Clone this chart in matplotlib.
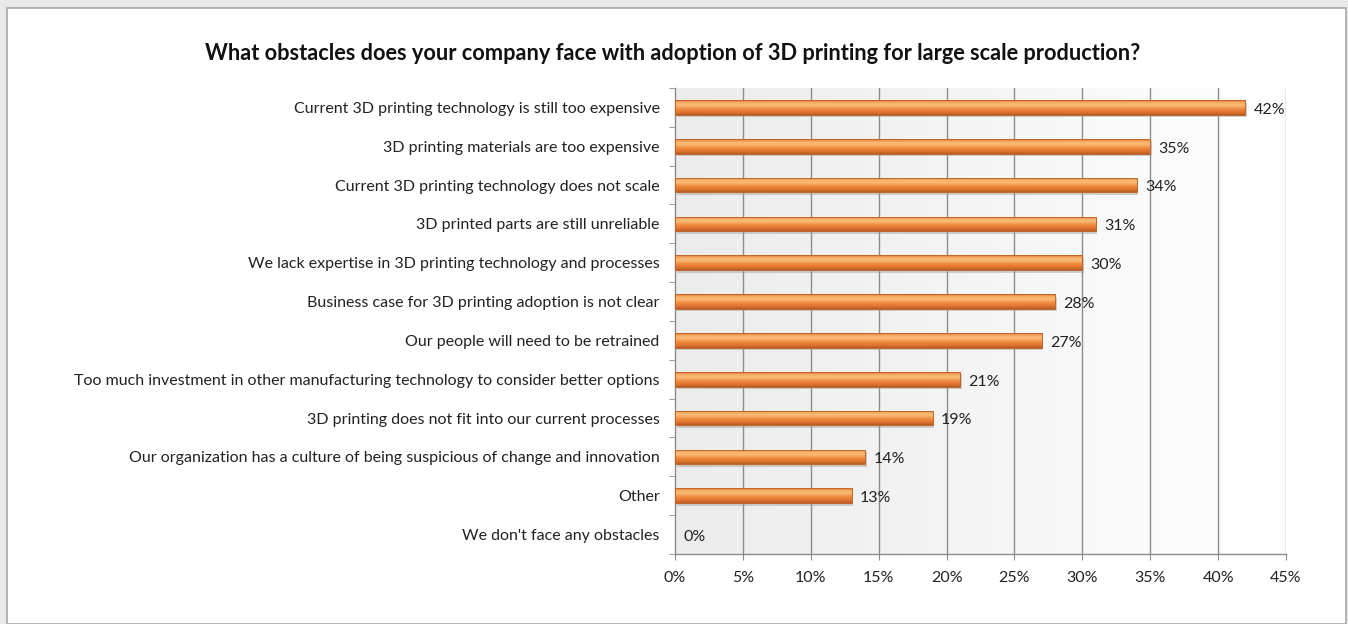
import numpy as np
import matplotlib.pyplot as plt
from matplotlib.colors import LinearSegmentedColormap
from matplotlib.patches import Rectangle
import matplotlib.transforms as mtransforms

plt.rcParams['font.family'] = ['Lato', 'DejaVu Sans']

title = "What obstacles does your company face with adoption of 3D printing for large scale production?"

obstacles = [
    "Current 3D printing technology is still too expensive",
    "3D printing materials are too expensive",
    "Current 3D printing technology does not scale",
    "3D printed parts are still unreliable",
    "We lack expertise in 3D printing technology and processes",
    "Business case for 3D printing adoption is not clear",
    "Our people will need to be retrained",
    "Too much investment in other manufacturing technology to consider better options",
    "3D printing does not fit into our current processes",
    "Our organization has a culture of being suspicious of change and innovation",
    "Other",
    "We don't face any obstacles",
]
shares = [42, 35, 34, 31, 30, 28, 27, 21, 19, 14, 13, 0]
x_ticks = [0, 5, 10, 15, 20, 25, 30, 35, 40, 45]

W, H = 1348, 624
fig = plt.figure(figsize=(W / 100, H / 100), dpi=100, facecolor='#e9e9e9')

# white chart sheet with a thin grey frame
sheet = Rectangle((7 / W, 0), (W - 9) / W, (H - 8) / H, transform=fig.transFigure,
                  facecolor='white', edgecolor='#a8a8a8', linewidth=1.2, zorder=-5)
fig.patches.append(sheet)

ax = fig.add_axes([675 / W, 1 - 554 / H, (1286 - 675) / W, (554 - 88) / H])
ax.set_zorder(2)
ax.patch.set_visible(False)
n = len(obstacles)
y = np.arange(n)
ax.set_xlim(0, 45)
ax.set_ylim(n - 0.5, -0.5)

# plot area fill: light grey on the left fading to white
bg = LinearSegmentedColormap.from_list('bg', ['#ececec', '#ffffff'])
ax.imshow(np.linspace(0, 1, 256)[None, :], cmap=bg, aspect='auto',
          extent=[0, 45, n - 0.5, -0.5], zorder=0)

for xt in x_ticks[1:]:
    ax.axvline(xt, color='#8c8c8c', linewidth=1.0, zorder=1)

# orange bars with a rounded-looking vertical gradient
bar_cmap = LinearSegmentedColormap.from_list(
    'bar', [(0.0, '#e07c36'), (0.2, '#f8b46c'), (0.35, '#fabb76'),
            (0.6, '#ee8a3e'), (0.85, '#db712e'), (1.0, '#b45c26')])
grad = np.linspace(0, 1, 64)[:, None]
bh = 0.38
shadow_off = mtransforms.offset_copy(ax.transData, fig=fig, x=1.5, y=-2.5, units='dots')
for yi, v in zip(y, shares):
    if v <= 0:
        continue
    ax.add_patch(Rectangle((0, yi - bh / 2), v, bh, transform=shadow_off,
                           facecolor='#9a9a9a', alpha=0.45, edgecolor='none', zorder=2))
    bar = Rectangle((0, yi - bh / 2), v, bh, facecolor='none',
                    edgecolor='#c2652a', linewidth=0.7, zorder=4)
    ax.add_patch(bar)
    im = ax.imshow(grad, cmap=bar_cmap, aspect='auto',
                   extent=[0, v, yi + bh / 2, yi - bh / 2], zorder=3)
    im.set_clip_path(bar)

for yi, v in zip(y, shares):
    ax.text(v + 0.6, yi + 0.06, f"{v}%", ha='left', va='center',
            fontsize=11.5, color='#222222', zorder=5)

ax.set_yticks(y)
ax.set_yticklabels(obstacles, fontsize=11.5, color='#222222')
ax.set_yticks(np.arange(n + 1) - 0.5, minor=True)
ax.tick_params(axis='y', which='major', length=0, pad=11)
ax.tick_params(axis='y', which='minor', length=4, color='#8c8c8c', direction='out')

ax.set_xticks(x_ticks)
ax.set_xticklabels([f"{t}%" for t in x_ticks], fontsize=11.5, color='#222222')
ax.tick_params(axis='x', length=4, color='#8c8c8c', pad=8.5)

for side in ['top', 'right']:
    ax.spines[side].set_visible(False)
for side in ['left', 'bottom']:
    ax.spines[side].set_color('#8c8c8c')
    ax.spines[side].set_linewidth(1.0)

fig.text(673 / W, 1 - 53 / H, title, ha='center', va='center',
         fontsize=15.7, fontweight='bold', color='#111111')

fig.savefig('out.png', dpi=100, facecolor=fig.get_facecolor())
